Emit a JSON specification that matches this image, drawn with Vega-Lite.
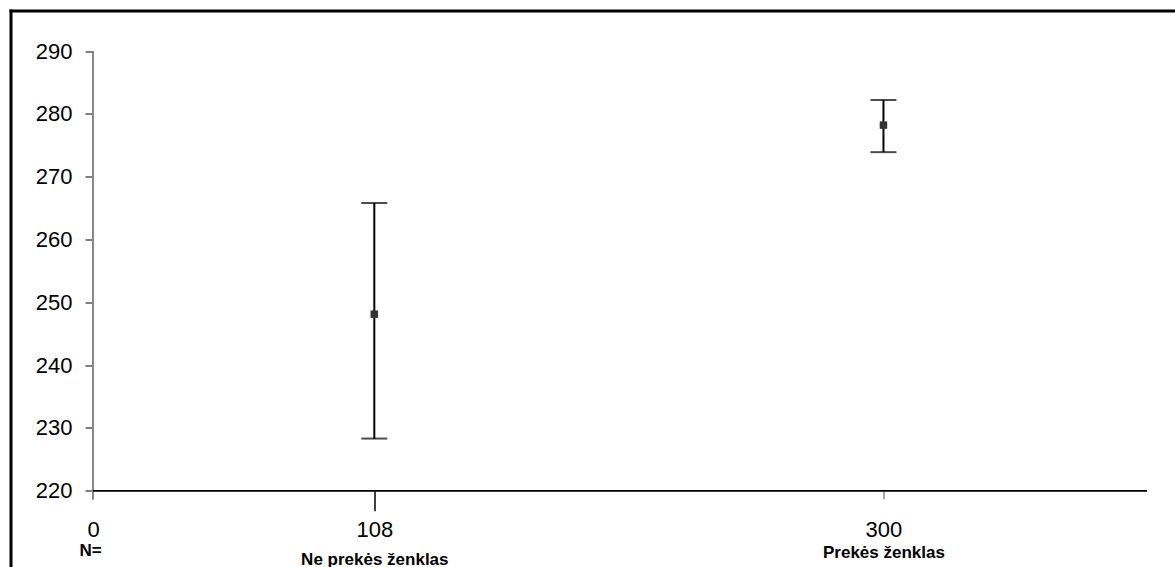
{
  "$schema": "https://vega.github.io/schema/vega-lite/v6.json",
  "width": 1164.5,
  "height": 556.5,
  "autosize": "none",
  "padding": {"left": 10.5, "top": 10.5, "right": 0, "bottom": 0},
  "background": "white",
  "config": {
    "view": {"stroke": null},
    "font": "Liberation Sans",
    "axis": {"grid": false, "title": null, "labelFont": "Liberation Sans"}
  },
  "data": {
    "values": [
      {"pos": 1, "n": 108, "group": "Ne prekės ženklas", "low": 228.3, "mean": 248.1, "high": 265.8},
      {"pos": 2.81, "n": 300, "group": "Prekės ženklas", "low": 273.9, "mean": 278.2, "high": 282.2}
    ]
  },
  "resolve": {"axis": {"x": "independent", "y": "independent"}},
  "layer": [
    {
      "mark": {"type": "rule", "color": "#888888", "strokeWidth": 2},
      "encoding": {
        "x": {"datum": 0, "type": "quantitative", "scale": {"domain": [-0.2933, 3.8464], "nice": false, "zero": false}, "axis": null},
        "y": {"datum": 218.6, "type": "quantitative", "scale": {"domain": [207.85, 296.45], "nice": false, "zero": false}, "axis": null},
        "y2": {"datum": 290}
      }
    },
    {
      "mark": {"type": "rule", "color": "black", "strokeWidth": 1.5},
      "encoding": {
        "x": {"datum": 0, "type": "quantitative", "scale": {"domain": [-0.2933, 3.8464], "nice": false, "zero": false}, "axis": null},
        "x2": {"datum": 3.747},
        "y": {"datum": 220, "type": "quantitative", "scale": {"domain": [207.85, 296.45], "nice": false, "zero": false}, "axis": null}
      }
    },
    {
      "mark": {"type": "rule", "color": "black", "strokeWidth": 2},
      "encoding": {
        "x": {
          "field": "pos", "type": "quantitative",
          "scale": {"domain": [-0.2933, 3.8464], "nice": false, "zero": false},
          "axis": {
            "orient": "bottom", "offset": -76.3, "values": [0, 1, 2.81],
            "labelExpr": "datum.value == 0 ? '0' : datum.value == 1 ? '108' : '300'",
            "domain": false, "ticks": true, "tickSize": 20, "tickColor": "black", "tickWidth": 1.5,
            "tickOpacity": {"condition": {"test": "datum.value == 1", "value": 1}, "value": 0},
            "labelFontSize": 22, "labelColor": "black", "labelBaseline": "alphabetic",
            "labelPadding": 25.8, "labelOverlap": false, "labelFlush": false, "labelBound": false,
            "title": null, "grid": false
          }
        },
        "y": {
          "field": "low", "type": "quantitative",
          "scale": {"domain": [207.85, 296.45], "nice": false, "zero": false},
          "axis": {
            "orient": "left", "offset": -82.5, "values": [220, 230, 240, 250, 260, 270, 280, 290],
            "domain": false, "ticks": true, "tickSize": 8, "tickColor": "black", "tickWidth": 1,
            "labelFontSize": 22, "labelColor": "black", "labelPadding": 13,
            "labelOverlap": false, "labelFlush": false, "labelBound": false,
            "title": null, "grid": false
          }
        },
        "y2": {"field": "high"}
      }
    },
    {
      "mark": {"type": "tick", "color": "black", "orient": "horizontal", "size": 26, "thickness": 2},
      "encoding": {
        "x": {
          "field": "pos", "type": "quantitative",
          "scale": {"domain": [-0.2933, 3.8464], "nice": false, "zero": false},
          "axis": {
            "orient": "top", "offset": 0, "domain": true, "domainColor": "black", "domainWidth": 3,
            "domainCap": "square", "ticks": false, "labels": false, "title": null, "grid": false
          }
        },
        "y": {"field": "high", "type": "quantitative", "scale": {"domain": [207.85, 296.45], "nice": false, "zero": false}, "axis": null}
      }
    },
    {
      "mark": {"type": "tick", "color": "black", "orient": "horizontal", "size": 26, "thickness": 2},
      "encoding": {
        "x": {"field": "pos", "type": "quantitative", "scale": {"domain": [-0.2933, 3.8464], "nice": false, "zero": false}, "axis": null},
        "y": {"field": "low", "type": "quantitative", "scale": {"domain": [207.85, 296.45], "nice": false, "zero": false}, "axis": null}
      }
    },
    {
      "mark": {"type": "point", "shape": "square", "filled": true, "size": 56, "color": "#333333", "opacity": 1},
      "encoding": {
        "x": {
          "field": "pos", "type": "quantitative",
          "scale": {"domain": [-0.2933, 3.8464], "nice": false, "zero": false},
          "axis": {
            "orient": "bottom", "offset": -76.3, "values": [0, 1, 2.81],
            "labelExpr": "datum.value == 0 ? 'N=' : datum.value == 1 ? 'Ne prekės ženklas' : 'Prekės ženklas'",
            "domain": false, "ticks": true, "tickSize": 8, "tickColor": "#888888", "tickWidth": 1.5,
            "tickOpacity": {"condition": {"test": "datum.value > 2", "value": 1}, "value": 0},
            "labelFontSize": 17, "labelFontWeight": "bold", "labelColor": "black", "labelBaseline": "alphabetic",
            "labelPadding": {"condition": [{"test": "datum.value == 0", "value": 56.3}, {"test": "datum.value == 1", "value": 65.3}], "value": 58.8},
            "labelOffset": {"condition": {"test": "datum.value == 0", "value": -3}, "value": 0},
            "labelOverlap": false, "labelFlush": false, "labelBound": false,
            "title": null, "grid": false
          }
        },
        "y": {
          "field": "mean", "type": "quantitative",
          "scale": {"domain": [207.85, 296.45], "nice": false, "zero": false},
          "axis": {
            "orient": "left", "offset": 0, "domain": true, "domainColor": "black", "domainWidth": 3,
            "domainCap": "square", "ticks": false, "labels": false, "title": null, "grid": false
          }
        }
      }
    }
  ]
}
